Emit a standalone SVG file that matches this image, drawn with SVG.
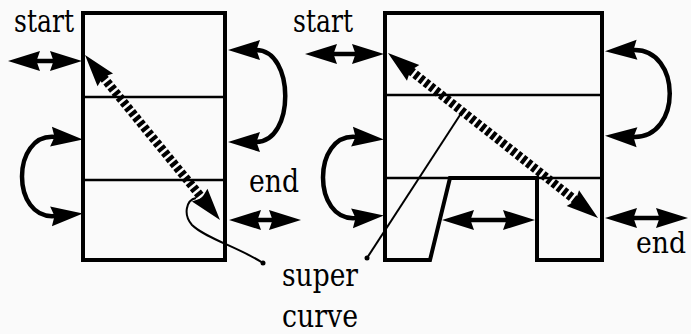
<svg xmlns="http://www.w3.org/2000/svg" width="691" height="334" viewBox="0 0 691 334">
<style>
.box{fill:none;stroke:#000;stroke-width:4;stroke-linejoin:miter}
.div{fill:none;stroke:#000;stroke-width:2.5}
.dbl{fill:none;stroke:#000;stroke-width:4.5;marker-start:url(#ah);marker-end:url(#ah)}
.arc{fill:none;stroke:#000;stroke-width:4.5;marker-start:url(#ah);marker-end:url(#ah)}
.dash{fill:none;stroke:#000;stroke-width:9;stroke-dasharray:4 2.5;marker-start:url(#ah);marker-end:url(#ah)}
.ptr{fill:none;stroke:#000;stroke-width:2}
.lbl{font-family:'DejaVu Serif','Liberation Serif',serif;font-size:32px;fill:#000}
</style>
<defs>
<marker id="ah" markerUnits="userSpaceOnUse" viewBox="-10 -15 45 30" markerWidth="45" markerHeight="30" refX="0" refY="0" orient="auto-start-reverse" overflow="visible">
<path d="M28,0 L-4,-10 L-0.5,0 L-4,10 Z" fill="#000"/>
</marker>
</defs>
<rect width="691" height="334" fill="#fafafa"/>
<g id="left-block">
<rect class="box" x="83" y="13" width="142" height="247"/>
<line class="div" x1="83" y1="97" x2="225" y2="97"/>
<line class="div" x1="83" y1="180" x2="225" y2="180"/>
</g>
<g id="right-block">
<path class="div" d="M385,178 L450,178 M537,178 L602,178 M385,95 L602,95"/>
<path class="box" d="M385,13 L602,13 L602,260 L537,260 L537,178 L450,178 L430,260 L385,260 Z"/>
</g>
<g id="labels">
<text class="lbl" x="14" y="32" textLength="60" lengthAdjust="spacingAndGlyphs">start</text>
<text class="lbl" x="293" y="32" textLength="60" lengthAdjust="spacingAndGlyphs">start</text>
<text class="lbl" x="249" y="192" textLength="50" lengthAdjust="spacingAndGlyphs">end</text>
<text class="lbl" x="636" y="253" style="font-size:29px" textLength="50" lengthAdjust="spacingAndGlyphs">end</text>
<text class="lbl" x="282" y="286" textLength="76" lengthAdjust="spacingAndGlyphs">super</text>
<text class="lbl" x="282" y="327" textLength="76" lengthAdjust="spacingAndGlyphs">curve</text>
</g>
<g id="connectors">
<line class="dbl" x1="36" y1="61" x2="54" y2="61"/>
<line class="dbl" x1="257" y1="220" x2="273" y2="220"/>
<line class="dbl" x1="333" y1="54" x2="356" y2="54"/>
<line class="dbl" x1="470" y1="220" x2="507" y2="220"/>
<line class="dbl" x1="633" y1="218" x2="660" y2="218"/>
<path class="arc" d="M256,50 C295,50 295,142 256,142"/>
<path class="arc" d="M55,137 C11,133 11,220 55,216"/>
<path class="arc" d="M633,50 C682,48 682,139 633,137"/>
<path class="arc" d="M356,137 C312,133 312,222 356,218"/>
<line class="dash" x1="102.75" y1="76.7" x2="202.25" y2="198.3"/>
<line class="dash" x1="410" y1="70.3" x2="576" y2="200.7"/>
<path class="ptr" d="M196,198 C186,200 183,215 192,225 C205,238 240,248 263,263"/>
<circle cx="263" cy="263" r="2.5" fill="#000"/>
<line class="ptr" x1="462" y1="112" x2="367" y2="258"/>
<circle cx="367" cy="258" r="2.5" fill="#000"/>
</g>
</svg>
